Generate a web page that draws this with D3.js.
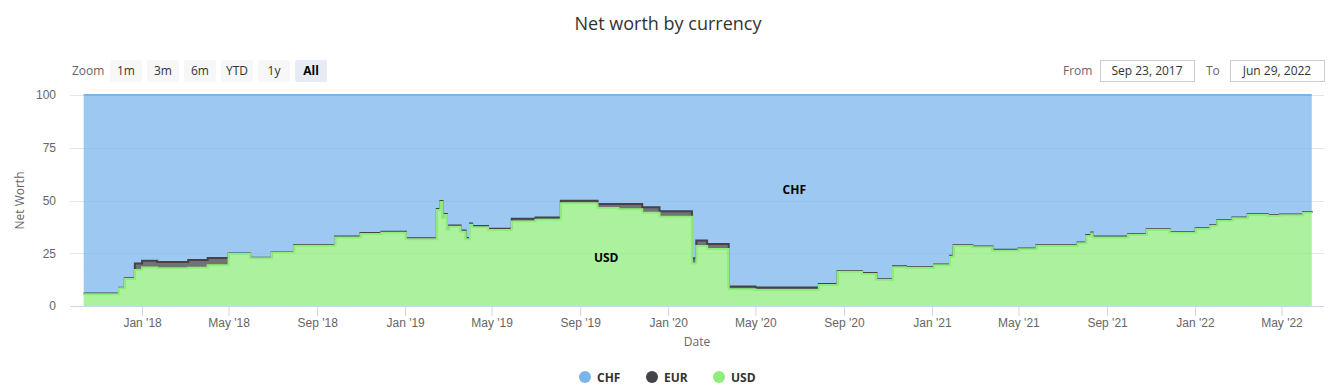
<!DOCTYPE html>
<html>
<head>
<meta charset="utf-8">
<script src="https://cdn.jsdelivr.net/npm/d3@7"></script>
<style>
  body { margin: 0; background: #fff; }
  svg { display: block; font-family: 'Open Sans', 'Noto Sans', sans-serif; }
</style>
</head>
<body>
<svg id="chart"></svg>
<script>
// share of net worth per currency (step points)
const dates = [
  '2017-10-12', '2017-11-30', '2017-12-08', '2017-12-22', '2018-01-01', '2018-01-22',
  '2018-03-06', '2018-04-02', '2018-05-01', '2018-05-31', '2018-06-30', '2018-07-31',
  '2018-09-26', '2018-10-31', '2018-11-29', '2019-01-02', '2019-02-14', '2019-02-19',
  '2019-02-22', '2019-02-25', '2019-02-28', '2019-03-03', '2019-03-19', '2019-03-26',
  '2019-04-01', '2019-04-04', '2019-04-26', '2019-05-29', '2019-07-01', '2019-08-05',
  '2019-09-25', '2019-10-24', '2019-11-26', '2019-12-20', '2020-02-03', '2020-02-09',
  '2020-02-24', '2020-03-25', '2020-05-01', '2020-07-28', '2020-08-23', '2020-09-26',
  '2020-10-16', '2020-11-08', '2020-11-26', '2021-01-04', '2021-01-26', '2021-01-31',
  '2021-02-26', '2021-03-26', '2021-05-01', '2021-05-26', '2021-07-22', '2021-08-03',
  '2021-08-10', '2021-08-12', '2021-09-30', '2021-10-26', '2021-11-27', '2022-01-02',
  '2022-01-22', '2022-02-01', '2022-02-22', '2022-03-15', '2022-04-12', '2022-04-29',
  '2022-05-31', '2022-06-12'
];
const usd = [
  5.6, 8.4, 12.8, 17.1, 18.3, 17.9,
  18.1, 19.3, 24.6, 22.6, 25.3, 28.6,
  32.5, 34.1, 34.7, 31.6, 45.5, 49.3,
  41.6, 43.1, 36.0, 37.6, 35.2, 31.6,
  38.5, 37.3, 36.0, 40.1, 40.9, 48.7,
  46.4, 45.8, 44.2, 42.3, 20.2, 28.4,
  27.0, 7.9, 7.6, 10.0, 16.2, 15.2,
  12.3, 18.4, 18.0, 19.3, 23.4, 28.4,
  27.8, 26.2, 26.9, 28.4, 29.7, 33.2,
  34.4, 32.5, 33.6, 36.0, 34.7, 36.5,
  37.9, 40.4, 41.6, 43.1, 42.6, 43.0,
  44.2, 44.0
];
const eur = [
  0.3, 0.3, 0.3, 3.1, 3.2, 3.0,
  3.7, 3.4, 0.3, 0.3, 0.3, 0.3,
  0.4, 0.5, 0.5, 0.5, 0.5, 0.5,
  0.5, 0.5, 0.5, 0.6, 0.6, 0.6,
  0.6, 0.6, 0.6, 1.2, 1.1, 1.2,
  1.9, 2.5, 2.6, 2.6, 2.4, 2.6,
  2.4, 1.3, 1.2, 0.4, 0.4, 0.4,
  0.4, 0.4, 0.4, 0.4, 0.4, 0.4,
  0.4, 0.4, 0.4, 0.4, 0.4, 0.4,
  0.4, 0.4, 0.4, 0.4, 0.4, 0.4,
  0.4, 0.4, 0.4, 0.4, 0.4, 0.4,
  0.4, 0.4
];
const chf = [
  94.1, 91.3, 86.9, 79.8, 78.5, 79.1,
  78.2, 77.3, 75.1, 77.1, 74.4, 71.1,
  67.1, 65.4, 64.8, 67.9, 54.0, 50.2,
  57.9, 56.4, 63.5, 61.8, 64.2, 67.8,
  60.9, 62.1, 63.4, 58.7, 58.0, 50.1,
  51.7, 51.7, 53.2, 55.1, 77.4, 69.0,
  70.6, 90.8, 91.2, 89.6, 83.4, 84.4,
  87.3, 81.2, 81.6, 80.3, 76.2, 71.2,
  71.8, 73.4, 72.7, 71.2, 69.9, 66.4,
  65.2, 67.1, 66.0, 63.6, 64.9, 63.1,
  61.7, 59.2, 58.0, 56.5, 57.0, 56.6,
  55.4, 55.6
];

const currencies = ['CHF', 'EUR', 'USD'];
const currencyColors = ['#7cb5ec', '#434348', '#90ed7d'];
const yTicks = [0, 25, 50, 75, 100];
const zoomButtons = ['1m', '3m', '6m', 'YTD', '1y', 'All'];
const rangeFrom = '2017-09-23';
const rangeTo = '2022-06-29';
const seriesLabels = ['CHF', 'USD'];
const seriesLabelDates = ['2020-06-24', '2019-10-07'];
const seriesLabelValues = [55, 22.7];

class NetWorthChart {

  constructor(_config) {
    this.config = {
      parentElement: _config.parentElement,
      containerWidth: _config.containerWidth || 1336,
      containerHeight: _config.containerHeight || 388,
    };
    this.config.margin = _config.margin || { top: 95, bottom: 82, right: 12, left: 70 };
    this.initVis();
  }

  initVis() {
    let vis = this;
    const m = vis.config.margin;

    vis.width = vis.config.containerWidth - m.left - m.right;
    vis.height = vis.config.containerHeight - m.top - m.bottom;

    vis.svg = d3.select(vis.config.parentElement)
      .attr('width', vis.config.containerWidth)
      .attr('height', vis.config.containerHeight);

    const parse = d3.utcParse('%Y-%m-%d');
    vis.parse = parse;

    vis.xScale = d3.scaleUtc()
      .domain([parse(rangeFrom), parse(rangeTo)])
      .range([0, vis.width]);

    vis.yScale = d3.scaleLinear()
      .domain([0, 100])
      .range([vis.height, 0]);

    vis.colorScale = d3.scaleOrdinal()
      .domain(currencies)
      .range(currencyColors);

    // title
    vis.svg.append('text')
      .attr('x', vis.config.containerWidth / 2)
      .attr('y', 30)
      .attr('text-anchor', 'middle')
      .attr('fill', '#333333')
      .style('font-size', '18px')
      .text('Net worth by currency');

    // range selector buttons
    const rs = vis.svg.append('g').attr('transform', 'translate(72,60)');
    rs.append('text')
      .attr('x', 0)
      .attr('y', 15)
      .attr('fill', '#666666')
      .style('font-size', '12px')
      .text('Zoom');
    zoomButtons.forEach((b, i) => {
      const selected = b === 'All';
      const g = rs.append('g').attr('transform', `translate(${38 + i * 37},0)`);
      g.append('rect')
        .attr('width', 32)
        .attr('height', 22)
        .attr('rx', 2)
        .attr('fill', selected ? '#e6ebf5' : '#f7f7f7');
      g.append('text')
        .attr('x', 16)
        .attr('y', 15)
        .attr('text-anchor', 'middle')
        .attr('fill', selected ? '#000000' : '#333333')
        .style('font-size', '12px')
        .style('font-weight', selected ? 'bold' : 'normal')
        .text(b);
    });

    // from / to inputs
    const fmtInput = d3.utcFormat('%b %d, %Y');
    const inputs = [
      { label: 'From', value: fmtInput(parse(rangeFrom)), labelX: 1063, boxX: 1100 },
      { label: 'To', value: fmtInput(parse(rangeTo)), labelX: 1206, boxX: 1230 }
    ];
    inputs.forEach(d => {
      vis.svg.append('text')
        .attr('x', d.labelX)
        .attr('y', 75)
        .attr('fill', '#666666')
        .style('font-size', '12px')
        .text(d.label);
      vis.svg.append('rect')
        .attr('x', d.boxX + 0.5)
        .attr('y', 60.5)
        .attr('width', 94)
        .attr('height', 21)
        .attr('fill', '#fff')
        .attr('stroke', '#cccccc');
      vis.svg.append('text')
        .attr('x', d.boxX + 47)
        .attr('y', 75)
        .attr('text-anchor', 'middle')
        .attr('fill', '#333333')
        .style('font-size', '12px')
        .text(d.value);
    });

    vis.chart = vis.svg.append('g')
      .attr('transform', `translate(${m.left},${m.top})`);

    // y grid + labels
    vis.chart.append('g')
      .attr('class', 'y-axis')
      .call(d3.axisLeft(vis.yScale).tickValues(yTicks).tickSize(-vis.width).tickPadding(14))
      .call(g => g.select('.domain').remove())
      .call(g => g.selectAll('line').attr('stroke', '#e6e6e6').attr('shape-rendering', 'crispEdges'))
      .call(g => g.selectAll('text').attr('fill', '#666666').style('font-size', '12px').style('font-family', null));

    vis.svg.append('text')
      .attr('transform', `translate(24,${m.top + vis.height / 2}) rotate(-90)`)
      .attr('text-anchor', 'middle')
      .attr('fill', '#666666')
      .style('font-size', '12px')
      .text('Net Worth');

    vis.areaLayer = vis.chart.append('g');

    // x axis
    const xTicks = d3.utcMonth.every(4).range(vis.xScale.domain()[0], vis.xScale.domain()[1]);
    vis.chart.append('g')
      .attr('transform', `translate(0,${vis.height})`)
      .call(d3.axisBottom(vis.xScale).tickValues(xTicks).tickFormat(d3.utcFormat("%b '%y"))
        .tickSize(10).tickSizeOuter(0).tickPadding(2))
      .call(g => g.select('.domain').attr('stroke', '#ccd6eb'))
      .call(g => g.selectAll('line').attr('stroke', '#ccd6eb'))
      .call(g => g.selectAll('text').attr('fill', '#666666').style('font-size', '12px').style('font-family', null));

    vis.chart.append('text')
      .attr('x', vis.width / 2)
      .attr('y', vis.height + 40)
      .attr('text-anchor', 'middle')
      .attr('fill', '#666666')
      .style('font-size', '12px')
      .text('Date');

    // legend
    const legend = vis.svg.append('g').attr('transform', 'translate(0,377)');
    currencies.forEach((c, i) => {
      const cx = 585 + i * 67;
      legend.append('circle')
        .attr('cx', cx)
        .attr('cy', 0)
        .attr('r', 6)
        .attr('fill', vis.colorScale(c));
      legend.append('text')
        .attr('x', cx + 12)
        .attr('y', 4.5)
        .attr('fill', '#333333')
        .style('font-size', '12px')
        .style('font-weight', 'bold')
        .text(c);
    });

    vis.render();
  }

  render() {
    let vis = this;

    vis.data = dates.map((d, i) => ({
      date: vis.parse(d), USD: usd[i], EUR: eur[i], CHF: chf[i]
    }));

    // percent stacking, USD at the bottom, CHF on top
    const stack = d3.stack()
      .keys(['USD', 'EUR', 'CHF'])
      .offset(d3.stackOffsetExpand);
    const series = stack(vis.data);

    const area = d3.area()
      .curve(d3.curveStepAfter)
      .x(d => vis.xScale(d.data.date))
      .y0(d => vis.yScale(d[0] * 100))
      .y1(d => vis.yScale(d[1] * 100));

    const line = d3.line()
      .curve(d3.curveStepAfter)
      .x(d => vis.xScale(d.data.date))
      .y(d => vis.yScale(d[1] * 100));

    // draw in Highcharts order: CHF first, USD last
    const ordered = series.slice().reverse();
    const groups = vis.areaLayer.selectAll('.series')
      .data(ordered)
      .join('g')
        .attr('class', 'series');

    groups.append('path')
      .attr('d', area)
      .attr('fill', d => vis.colorScale(d.key))
      .attr('fill-opacity', 0.75);

    groups.append('path')
      .attr('d', line)
      .attr('fill', 'none')
      .attr('stroke', d => vis.colorScale(d.key))
      .attr('stroke-width', 2);

    // series labels
    seriesLabels.forEach((s, i) => {
      vis.chart.append('text')
        .attr('x', vis.xScale(vis.parse(seriesLabelDates[i])))
        .attr('y', vis.yScale(seriesLabelValues[i]))
        .attr('dy', '0.35em')
        .attr('text-anchor', 'middle')
        .attr('fill', '#000000')
        .style('font-size', '12px')
        .style('font-weight', 'bold')
        .text(s);
    });
  }
}

new NetWorthChart({ parentElement: '#chart' });
</script>
</body>
</html>
